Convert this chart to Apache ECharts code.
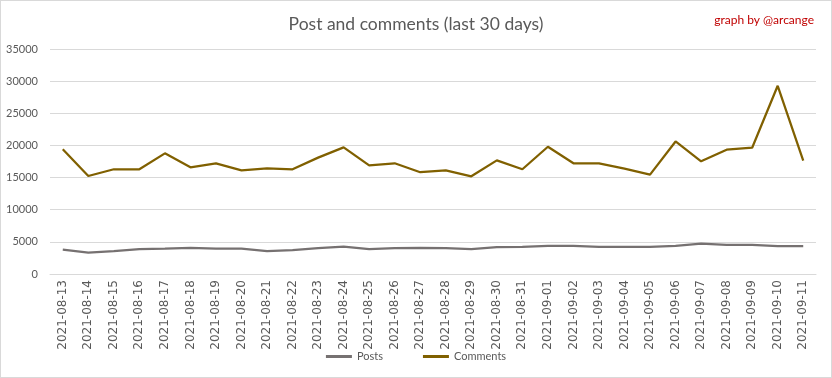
<html>
    <head>
        <meta charset="utf-8">
        <script src='https://cdn.jsdelivr.net/npm/echarts@6/dist/echarts.min.js'></script>
    </head>
    <body>
        <style>
            html, body {
                margin: 0;
                background: #fff;
            }
            #main {
                width: 830px;
                height: 376px;
                border: 1px solid #d9d9d9;
            }
        </style>
        <div id='main'></div>
        <script>
            var days = [
                '2021-08-13', '2021-08-14', '2021-08-15', '2021-08-16', '2021-08-17',
                '2021-08-18', '2021-08-19', '2021-08-20', '2021-08-21', '2021-08-22',
                '2021-08-23', '2021-08-24', '2021-08-25', '2021-08-26', '2021-08-27',
                '2021-08-28', '2021-08-29', '2021-08-30', '2021-08-31', '2021-09-01',
                '2021-09-02', '2021-09-03', '2021-09-04', '2021-09-05', '2021-09-06',
                '2021-09-07', '2021-09-08', '2021-09-09', '2021-09-10', '2021-09-11'
            ];
            var posts = [
                3780, 3310, 3570, 3880, 3930, 4080, 3930, 3930, 3570, 3720,
                4030, 4240, 3880, 4030, 4070, 4020, 3870, 4180, 4230, 4380,
                4380, 4230, 4230, 4230, 4380, 4740, 4540, 4540, 4330, 4330
            ];
            var comments = [
                19400, 15250, 16290, 16290, 18770, 16600, 17220, 16130, 16440, 16290,
                18100, 19700, 16900, 17220, 15830, 16130, 15200, 17680, 16290, 19790,
                17220, 17220, 16390, 15460, 20620, 17530, 19330, 19640, 29280, 17630
            ];

            var chart = echarts.init(document.getElementById('main'));
            var txt = '#595959';

            var option = {
                animation: false,
                title: [{
                    text: 'Post and comments (last 30 days)',
                    left: 'center',
                    top: 9,
                    textStyle: { color: txt, fontSize: 17.5, fontWeight: 'normal', fontFamily: 'Lato' }
                }, {
                    text: 'graph by @arcange',
                    right: 12,
                    top: 8,
                    textStyle: { color: '#c00000', fontSize: 12, fontWeight: 'normal', fontFamily: 'Lato' }
                }],
                legend: {
                    bottom: 10,
                    left: 'center',
                    itemWidth: 26,
                    itemHeight: 3,
                    itemGap: 40,
                    icon: 'rect',
                    textStyle: { color: txt, fontSize: 11, fontFamily: 'Lato' },
                    data: ['Posts', 'Comments']
                },
                grid: { left: 49, right: 15, top: 48, bottom: 103 },
                xAxis: {
                    type: 'category',
                    data: days,
                    axisLine: { lineStyle: { color: '#d9d9d9' } },
                    axisTick: { show: false },
                    axisLabel: { rotate: 90, color: txt, fontSize: 12, fontFamily: 'DejaVu Sans', margin: 6, interval: 0 }
                },
                yAxis: {
                    type: 'value',
                    min: 0,
                    max: 35000,
                    interval: 5000,
                    axisLabel: { color: txt, fontSize: 11, fontFamily: 'Lato', margin: 12, formatter: function (v) { return String(v); } },
                    splitLine: { lineStyle: { color: '#d9d9d9' } }
                },
                series: [{
                    name: 'Posts',
                    type: 'line',
                    data: posts,
                    symbol: 'none',
                    color: '#767171',
                    lineStyle: { width: 2.25 }
                }, {
                    name: 'Comments',
                    type: 'line',
                    data: comments,
                    symbol: 'none',
                    color: '#806000',
                    lineStyle: { width: 2.25 }
                }]
            };

            chart.setOption(option);
            window.onresize = chart.resize;
        </script>
    </body>
</html>
